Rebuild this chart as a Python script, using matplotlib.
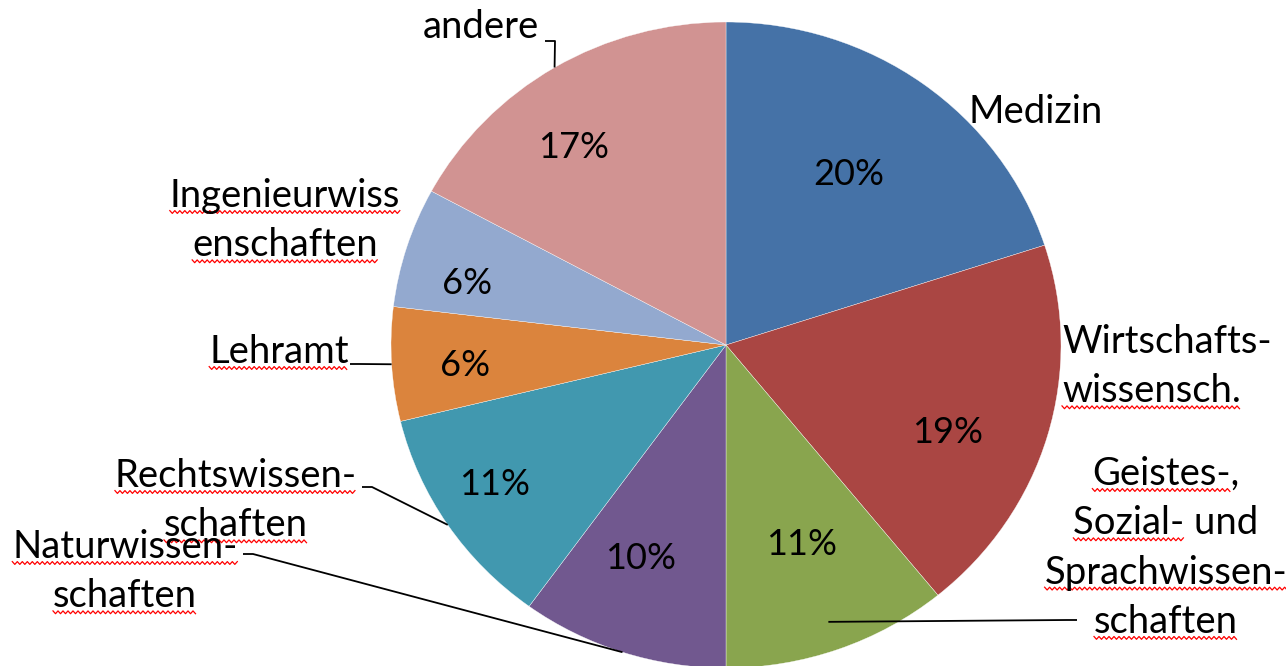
import numpy as np
import matplotlib
matplotlib.use('Agg')
import matplotlib.pyplot as plt

# Shares per subject (percent), clockwise from 12 o'clock
CATEGORIES = [
    'Medizin',
    'Wirtschafts-\nwissensch.',
    'Geistes-,\nSozial- und\nSprachwissen-\nschaften',
    'Naturwissen-\nschaften',
    'Rechtswissen-\nschaften',
    'Lehramt',
    'Ingenieurwiss\nenschaften',
    'andere',
]
SHARES = [20.0, 19.1, 10.9, 10.0, 11.2, 5.7, 6.0, 17.1]
COLORS = ['#4572A7', '#AA4643', '#89A54E', '#71588F',
          '#4198AF', '#DB843D', '#93A9CF', '#D19392']

FONT = 'Lato'
FS_LABEL = 27.5
FS_PCT = 26

# canvas geometry (pixels): pie centre and radii
W, H = 1286, 666
CX, CY, RX, RY = 726, 345, 335, 323


def px(x, y):
    """pixel position -> pie data coords (radius 1)"""
    return (x - CX) / RX, (CY - y) / RY


# label layout: anchor x, alignment, first baseline (pixels)
LABEL_POS = [
    (968, 'left', 123),
    (1062, 'left', 353),
    (1166, 'center', 485),
    (125, 'center', 558),
    (236, 'center', 487),
    (279, 'center', 363),
    (285, 'center', 207),
    (481, 'center', 38),
]
LINE_STEP = 49.3
# part of each line marked by the spell checker
UNDERLINE = [
    [None],
    [None, 'wissensch.'],
    ['Geistes-', 'Sozial-', 'Sprachwissen-', 'schaften'],
    ['Naturwissen-', 'schaften'],
    ['Rechtswissen-', 'schaften'],
    ['Lehramt'],
    ['Ingenieurwiss', 'enschaften'],
    [None],
]
# leader lines: start next to label (pixels), radius where it meets the slice
LEADERS = {
    2: ((1077, 620), 0.91),
    3: ((243, 554), 1.0),
    4: ((362, 487), 1.0),
    5: ((350, 364), 1.0),
    7: ((545, 41), 1.0),
}
# percentage label placement: radius and clockwise shift from slice middle (deg)
PCT_R = [0.65, 0.71, 0.65, 0.70, 0.81, 0.78, 0.80, 0.77]
PCT_DTHETA = [-1.6, 5.2, -0.8, 3.4, 2.4, -0.5, -3.1, -5.4]

fig = plt.figure(figsize=(W / 100, H / 100), dpi=100)
ax = fig.add_axes([0, 0, 1, 1])
wedges, _ = ax.pie(SHARES, colors=COLORS, startangle=90, counterclock=False,
                   radius=1, wedgeprops=dict(edgecolor='white', linewidth=0.25))
ax.set_aspect('auto')
ax.set_xlim(px(0, 0)[0], px(W, 0)[0])
ax.set_ylim(px(0, H)[1], px(0, 0)[1])
ax.axis('off')

# percentages inside the slices
for w, s, r, dt in zip(wedges, SHARES, PCT_R, PCT_DTHETA):
    mid = np.deg2rad((w.theta1 + w.theta2) / 2 - dt)
    ax.text(r * np.cos(mid), r * np.sin(mid), '%d%%' % round(s),
            ha='center', va='center_baseline', fontsize=FS_PCT, family=FONT)

# category labels, one text per line
jobs = []
for cat, (lx, ha, base), marks in zip(CATEGORIES, LABEL_POS, UNDERLINE):
    for k, (line, part) in enumerate(zip(cat.split('\n'), marks)):
        x, y = px(lx, base + k * LINE_STEP)
        t = ax.text(x, y, line, ha=ha, va='baseline', fontsize=FS_LABEL,
                    family=FONT)
        if part:
            jobs.append((t, part))

# leader lines
for i, ((sx, sy), r) in LEADERS.items():
    w = wedges[i]
    mid = np.deg2rad((w.theta1 + w.theta2) / 2)
    ex, ey = r * np.cos(mid), r * np.sin(mid)
    x0, y0 = px(sx, sy)
    stub = 10 / RX * np.sign(ex - x0)
    ax.plot([x0, x0 + stub, ex], [y0, y0, ey], color='black', lw=1.3,
            solid_capstyle='butt')

# red wavy spell-check underlines
fig.canvas.draw()
renderer = fig.canvas.get_renderer()
inv = ax.transData.inverted()
for t, part in jobs:
    bb = t.get_window_extent(renderer)
    width = bb.width
    if part != t.get_text():
        tmp = ax.text(0, 0, part, fontsize=FS_LABEL, family=FONT)
        width = tmp.get_window_extent(renderer).width
        tmp.remove()
    base = ax.transData.transform(t.get_position())[1]
    xs = np.arange(bb.x0, bb.x0 + width + 0.1, 2.5)
    ys = base - 5 + np.where(np.arange(len(xs)) % 2 == 0, 1.4, -1.4)
    pts = inv.transform(np.column_stack([xs, ys]))
    ax.plot(pts[:, 0], pts[:, 1], color='#FF0000', lw=0.9)

fig.savefig('out.png', dpi=100, facecolor='white')
